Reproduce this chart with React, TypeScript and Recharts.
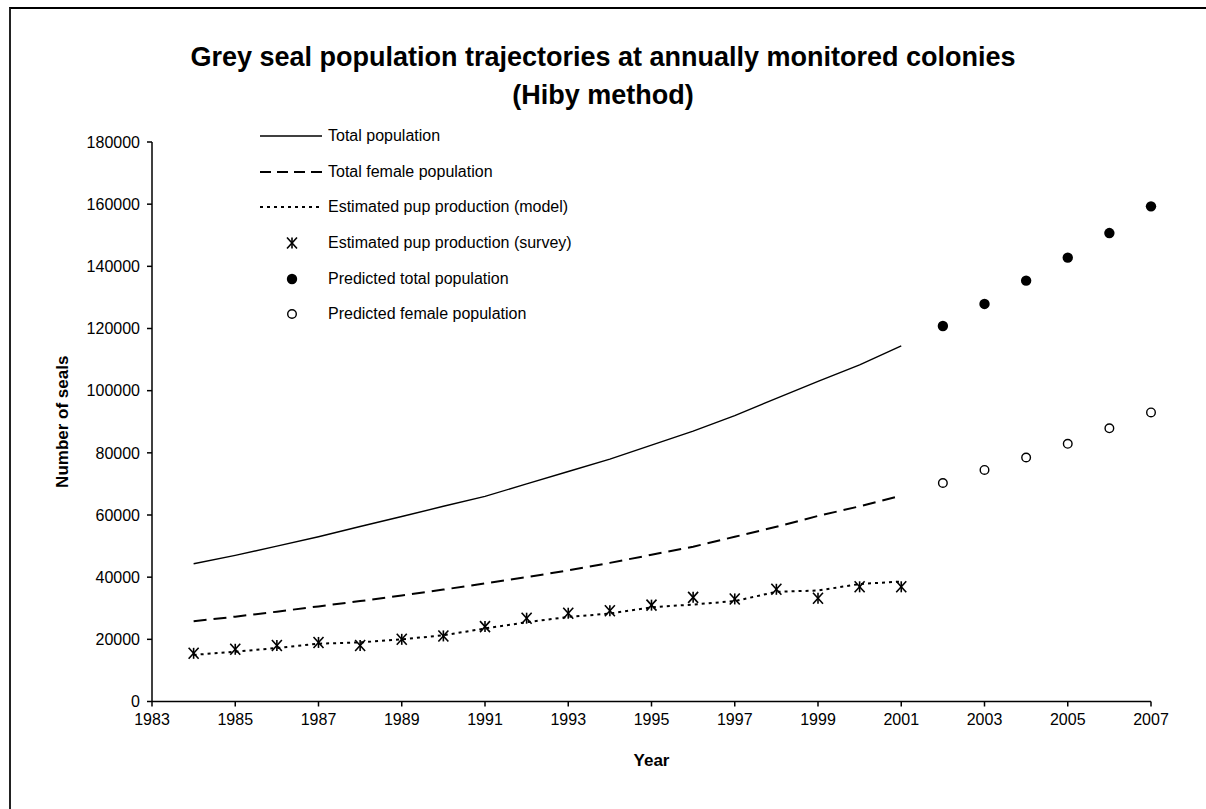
import { ComposedChart, Line, Scatter, XAxis, YAxis } from "recharts";

const years = [1984, 1985, 1986, 1987, 1988, 1989, 1990, 1991, 1992, 1993, 1994, 1995, 1996, 1997, 1998, 1999, 2000, 2001];
const totalPop = [44300, 47000, 50000, 53000, 56300, 59500, 62800, 66000, 70000, 74000, 78000, 82500, 87000, 92000, 97500, 103000, 108300, 114400];
const femalePop = [25800, 27300, 28900, 30600, 32300, 34100, 36000, 38000, 40000, 42200, 44600, 47200, 49800, 53000, 56200, 59700, 62800, 66200];
const pupModel = [15000, 16000, 17200, 18600, 19000, 20000, 21300, 23500, 25500, 27200, 28300, 30300, 31200, 32300, 35300, 35700, 37800, 38600];
const pupSurvey = [15500, 16800, 18000, 19000, 18000, 20000, 21100, 24100, 26800, 28400, 29200, 31000, 33500, 33000, 36100, 33200, 36900, 36900];

const predYears = [2002, 2003, 2004, 2005, 2006, 2007];
const predTotal = [120800, 127900, 135400, 142800, 150700, 159300];
const predFemale = [70300, 74500, 78500, 82900, 87900, 93000];

const xTicks = [1983, 1985, 1987, 1989, 1991, 1993, 1995, 1997, 1999, 2001, 2003, 2005, 2007];
const yTicks = [0, 20000, 40000, 60000, 80000, 100000, 120000, 140000, 160000, 180000];

const data = years.map((year, i) => ({
  year,
  total: totalPop[i],
  female: femalePop[i],
  model: pupModel[i],
  survey: pupSurvey[i],
}));
const predTotalData = predYears.map((year, i) => ({ year, value: predTotal[i] }));
const predFemaleData = predYears.map((year, i) => ({ year, value: predFemale[i] }));

const FONT = "'Liberation Sans', Arial, sans-serif";
const DASHED = "13 7";
const DOTTED = "3 4";

function StarMark({ cx, cy }: { cx?: number; cy?: number }) {
  if (cx == null || cy == null) return null;
  return (
    <g stroke="#000" strokeWidth={1.6}>
      <line x1={cx - 5} y1={cy - 5.5} x2={cx + 5} y2={cy + 5.5} />
      <line x1={cx - 5} y1={cy + 5.5} x2={cx + 5} y2={cy - 5.5} />
      <line x1={cx} y1={cy - 5.5} x2={cx} y2={cy + 5.5} />
    </g>
  );
}

function FilledDot({ cx, cy }: { cx?: number; cy?: number }) {
  if (cx == null || cy == null) return null;
  return <circle cx={cx} cy={cy} r={5.2} fill="#000" />;
}

function OpenDot({ cx, cy }: { cx?: number; cy?: number }) {
  if (cx == null || cy == null) return null;
  return <circle cx={cx} cy={cy} r={4.3} fill="#fff" stroke="#000" strokeWidth={1.4} />;
}

const legendRows = [
  { name: "Total population", kind: "solid" },
  { name: "Total female population", kind: "dashed" },
  { name: "Estimated pup production (model)", kind: "dotted" },
  { name: "Estimated pup production (survey)", kind: "star" },
  { name: "Predicted total population", kind: "filled" },
  { name: "Predicted female population", kind: "open" },
];

function LegendBox() {
  return (
    <div style={{ position: "absolute", left: 258, top: 118, fontFamily: FONT, fontSize: 16 }}>
      {legendRows.map((row) => (
        <div key={row.name} style={{ display: "flex", alignItems: "center", height: 35.7 }}>
          <svg width={68} height={20}>
            {row.kind === "solid" && <line x1={2} y1={10} x2={64} y2={10} stroke="#000" strokeWidth={1.4} />}
            {row.kind === "dashed" && (
              <line x1={2} y1={10} x2={64} y2={10} stroke="#000" strokeWidth={2} strokeDasharray="11 6" />
            )}
            {row.kind === "dotted" && (
              <line x1={2} y1={10} x2={64} y2={10} stroke="#000" strokeWidth={2} strokeDasharray={DOTTED} />
            )}
            {row.kind === "star" && <StarMark cx={34} cy={10} />}
            {row.kind === "filled" && <FilledDot cx={34} cy={10} />}
            {row.kind === "open" && <OpenDot cx={34} cy={10} />}
          </svg>
          <span style={{ marginLeft: 2 }}>{row.name}</span>
        </div>
      ))}
    </div>
  );
}

export default function App() {
  const tick = { fontSize: 16, fill: "#000", fontFamily: FONT };
  const axisTitle = { fontSize: 17, fontWeight: "bold", fill: "#000", fontFamily: FONT };
  return (
    <div style={{ position: "absolute", left: 0, top: 0, width: 1206, height: 809, background: "#fff", overflow: "hidden" }}>
      <div
        style={{
          position: "absolute",
          left: 9,
          top: 7,
          width: 1300,
          height: 900,
          borderLeft: "2px solid #222",
          borderTop: "2px solid #000",
        }}
      />
      <div
        style={{
          position: "absolute",
          left: 0,
          top: 38,
          width: 1206,
          textAlign: "center",
          fontFamily: FONT,
          fontWeight: "bold",
          fontSize: 27,
          lineHeight: "38px",
        }}
      >
        Grey seal population trajectories at annually monitored colonies
        <br />
        (Hiby method)
      </div>
      <div style={{ position: "absolute", left: 0, top: 0 }}>
        <ComposedChart width={1206} height={809} data={data} margin={{ top: 142, right: 55, left: 0, bottom: 0 }}>
          <XAxis
            dataKey="year"
            type="number"
            domain={[1983, 2007]}
            ticks={xTicks}
            interval={0}
            height={107.5}
            tick={tick}
            tickSize={5}
            tickMargin={7}
            stroke="#000"
            strokeWidth={1.5}
            label={{ value: "Year", position: "insideBottom", offset: 43, style: axisTitle }}
          />
          <YAxis
            type="number"
            domain={[0, 180000]}
            ticks={yTicks}
            interval={0}
            width={152}
            tick={tick}
            tickSize={5}
            tickMargin={7}
            stroke="#000"
            strokeWidth={1.5}
            label={{
              value: "Number of seals",
              angle: -90,
              position: "insideLeft",
              offset: 62,
              style: { ...axisTitle, textAnchor: "middle" },
            }}
          />
          <Line dataKey="total" stroke="#000" strokeWidth={1.4} dot={false} isAnimationActive={false} type="linear" />
          <Line dataKey="female" stroke="#000" strokeWidth={2} strokeDasharray={DASHED} dot={false} isAnimationActive={false} type="linear" />
          <Line dataKey="model" stroke="#000" strokeWidth={2} strokeDasharray={DOTTED} dot={false} isAnimationActive={false} type="linear" />
          <Scatter dataKey="survey" shape={StarMark} isAnimationActive={false} />
          <Scatter data={predTotalData} dataKey="value" shape={FilledDot} isAnimationActive={false} />
          <Scatter data={predFemaleData} dataKey="value" shape={OpenDot} isAnimationActive={false} />
        </ComposedChart>
      </div>
      <LegendBox />
    </div>
  );
}
